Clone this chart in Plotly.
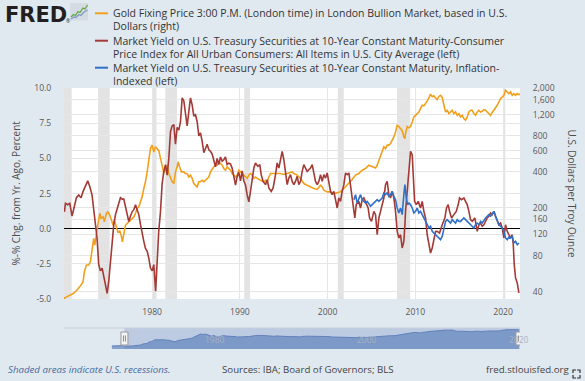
import math
import pandas as pd
import plotly.graph_objects as go

# ---------------- data ----------------
gold_year = [1968.30, 1968.80, 1969.20, 1969.60, 1969.90,
    1970.00, 1970.30, 1970.68, 1971.06, 1971.44, 1971.63, 1971.90, 1972.13, 1972.28, 1972.51,
    1972.77, 1972.96, 1973.15, 1973.34, 1973.46, 1973.65, 1973.80, 1974.03, 1974.18, 1974.41,
    1974.56, 1974.79, 1974.94, 1975.17, 1975.32, 1975.55, 1975.70, 1975.93, 1976.08, 1976.31,
    1976.46, 1976.61, 1976.77, 1976.96, 1977.15, 1977.34, 1977.53, 1977.72, 1977.91, 1978.10,
    1978.29, 1978.48, 1978.67, 1978.86, 1979.05, 1979.24, 1979.43, 1979.62, 1979.81, 1980.00,
    1980.19, 1980.38, 1980.57, 1980.76, 1980.95, 1981.14, 1981.33, 1981.52, 1981.71, 1981.90,
    1982.09, 1982.28, 1982.47, 1982.66, 1982.85, 1982.96, 1983.12, 1983.34, 1983.61, 1983.80,
    1983.99, 1984.18, 1984.37, 1984.56, 1984.75, 1984.94, 1985.13, 1985.32, 1985.51, 1985.70,
    1985.89, 1986.08, 1986.27, 1986.46, 1986.65, 1986.84, 1987.03, 1987.22, 1987.41, 1987.60,
    1987.79, 1987.98, 1988.17, 1988.36, 1988.55, 1988.74, 1988.93, 1989.12, 1989.31, 1989.50,
    1989.69, 1989.88, 1990.07, 1990.26, 1990.45, 1990.64, 1990.83, 1991.02, 1991.21, 1991.40,
    1991.59, 1991.78, 1991.97, 1992.35, 1992.73, 1992.92, 1993.11, 1993.30, 1993.49, 1993.87,
    1994.25, 1994.63, 1995.01, 1995.39, 1995.77, 1995.96, 1996.15, 1996.53, 1996.91, 1997.29,
    1997.67, 1998.05, 1998.43, 1998.81, 1999.19, 1999.38, 1999.57, 1999.95, 2000.33, 2000.71,
    2001.09, 2001.47, 2001.85, 2002.23, 2002.61, 2002.80, 2003.18, 2003.56, 2003.94, 2004.32,
    2004.70, 2005.08, 2005.46, 2005.65, 2005.84, 2006.03, 2006.22, 2006.41, 2006.60, 2006.79,
    2006.98, 2007.17, 2007.36, 2007.55, 2007.74, 2007.93, 2008.12, 2008.31, 2008.50, 2008.69,
    2008.81, 2008.88, 2009.07, 2009.26, 2009.45, 2009.64, 2009.83, 2010.02, 2010.21, 2010.40,
    2010.59, 2010.78, 2010.97, 2011.16, 2011.35, 2011.54, 2011.73, 2011.92, 2012.11, 2012.30,
    2012.49, 2012.68, 2012.87, 2013.06, 2013.25, 2013.44, 2013.63, 2013.82, 2014.01, 2014.20,
    2014.39, 2014.58, 2014.77, 2014.96, 2015.15, 2015.34, 2015.53, 2015.72, 2015.91, 2016.10,
    2016.29, 2016.48, 2016.67, 2016.86, 2017.05, 2017.24, 2017.43, 2017.62, 2017.81, 2018.00,
    2018.19, 2018.38, 2018.57, 2018.76, 2018.95, 2019.14, 2019.33, 2019.52, 2019.71, 2019.90,
    2020.09, 2020.28, 2020.47, 2020.66, 2020.85, 2021.04, 2021.23, 2021.42, 2021.61, 2021.80,
    2021.90]
gold_price = [38.0, 39.5, 42.5, 41.0, 35.5,
    35.2, 36.3, 37.4, 38.7, 41.2, 42.6, 45.4, 48.3, 58.6, 66.6,
    66.6, 70.9, 88.8, 111, 97.7, 126, 143, 180, 163, 168,
    153, 180, 185, 174, 163, 143, 158, 135, 126, 128,
    119, 104, 119, 143, 148, 153, 158, 163, 168, 180,
    198, 204, 225, 247, 290, 330, 399, 484, 625, 667,
    586, 646, 620, 600, 520, 450, 390, 412, 454, 387,
    352, 330, 319, 399, 440, 484, 440, 399, 399, 387,
    387, 362, 375, 352, 319, 309, 299, 330, 330, 340,
    330, 340, 352, 362, 399, 426, 440, 454, 454, 484,
    470, 454, 426, 412, 440, 426, 412, 387, 375, 362,
    375, 412, 399, 387, 375, 362, 352, 375, 387, 375,
    352, 362, 352, 340, 330, 340, 330, 362, 387, 387,
    387, 387, 380, 387, 393, 399, 387, 375, 352, 319,
    309, 299, 290, 285, 309, 299, 281, 272, 272, 263,
    267, 272, 290, 309, 330, 345, 375, 387, 412, 426,
    454, 440, 430, 454, 499, 550, 605, 646, 625, 667,
    667, 689, 733, 781, 860, 977, 954, 918, 880, 781,
    757, 834, 954, 930, 954, 1042, 1146, 1183, 1222, 1262,
    1345, 1435, 1420, 1480, 1560, 1650, 1780, 1690, 1720, 1650,
    1600, 1700, 1740, 1670, 1480, 1262, 1303, 1222, 1262, 1303,
    1222, 1262, 1183, 1222, 1146, 1183, 1112, 1077, 1146, 1262,
    1303, 1303, 1222, 1183, 1262, 1303, 1262, 1280, 1320, 1303,
    1262, 1222, 1183, 1250, 1303, 1345, 1435, 1528, 1633, 1683,
    1738, 1914, 1855, 1795, 1855, 1738, 1795, 1738, 1795, 1760,
    1795]

tcpi_year = [1970.00, 1970.12, 1970.38, 1970.61, 1970.87, 1971.14, 1971.37, 1971.63, 1971.90, 1972.13,
    1972.40, 1972.66, 1972.89, 1973.15, 1973.34, 1973.53, 1973.72, 1973.91, 1974.10, 1974.30,
    1974.49, 1974.68, 1974.87, 1975.06, 1975.25, 1975.44, 1975.63, 1975.82, 1976.01, 1976.20,
    1976.39, 1976.58, 1976.77, 1976.96, 1977.15, 1977.34, 1977.53, 1977.72, 1977.91, 1978.10,
    1978.29, 1978.48, 1978.67, 1978.86, 1979.05, 1979.24, 1979.43, 1979.62, 1979.81, 1980.00,
    1980.19, 1980.40, 1980.60, 1980.75, 1980.95, 1981.14, 1981.33, 1981.52, 1981.71, 1981.90,
    1982.09, 1982.28, 1982.47, 1982.66, 1982.85, 1983.04, 1983.23, 1983.42, 1983.61, 1983.80,
    1983.99, 1984.18, 1984.37, 1984.56, 1984.75, 1984.94, 1985.13, 1985.32, 1985.51, 1985.70,
    1985.89, 1986.08, 1986.27, 1986.46, 1986.65, 1986.84, 1987.03, 1987.22, 1987.41, 1987.60,
    1987.79, 1987.98, 1988.17, 1988.36, 1988.55, 1988.74, 1988.93, 1989.12, 1989.31, 1989.50,
    1989.69, 1989.88, 1990.07, 1990.26, 1990.45, 1990.64, 1990.83, 1991.02, 1991.21, 1991.40,
    1991.59, 1991.78, 1992.05, 1992.27, 1992.43, 1992.65, 1992.92, 1993.11, 1993.30, 1993.57,
    1993.79, 1994.06, 1994.25, 1994.44, 1994.63, 1994.82, 1995.01, 1995.20, 1995.39, 1995.58,
    1995.77, 1995.96, 1996.15, 1996.34, 1996.53, 1996.72, 1996.91, 1997.10, 1997.29, 1997.48,
    1997.67, 1997.86, 1998.05, 1998.24, 1998.43, 1998.62, 1998.81, 1999.00, 1999.19, 1999.38,
    1999.57, 1999.76, 1999.95, 2000.14, 2000.33, 2000.52, 2000.71, 2000.90, 2001.09, 2001.28,
    2001.47, 2001.66, 2001.85, 2002.04, 2002.23, 2002.42, 2002.61, 2002.80, 2002.99, 2003.10,
    2003.26, 2003.56, 2003.75, 2003.94, 2004.13, 2004.40, 2004.62, 2004.78, 2005.00, 2005.27,
    2005.46, 2005.65, 2005.84, 2006.03, 2006.22, 2006.41, 2006.60, 2006.79, 2006.98, 2007.17,
    2007.36, 2007.55, 2007.74, 2007.93, 2008.12, 2008.31, 2008.50, 2008.69, 2008.81, 2008.88,
    2009.07, 2009.26, 2009.45, 2009.64, 2009.76, 2009.91, 2010.10, 2010.33, 2010.59, 2010.78,
    2010.97, 2011.16, 2011.35, 2011.54, 2011.73, 2011.92, 2012.11, 2012.30, 2012.49, 2012.76,
    2013.06, 2013.36, 2013.55, 2013.74, 2013.90, 2014.12, 2014.39, 2014.66, 2014.88, 2015.04,
    2015.26, 2015.53, 2015.72, 2015.91, 2016.10, 2016.29, 2016.48, 2016.78, 2017.05, 2017.24,
    2017.43, 2017.62, 2017.81, 2018.00, 2018.19, 2018.38, 2018.57, 2018.76, 2018.95, 2019.14,
    2019.33, 2019.52, 2019.71, 2019.90, 2020.09, 2020.28, 2020.47, 2020.66, 2020.85, 2021.04,
    2021.16, 2021.27, 2021.42, 2021.61, 2021.80]
tcpi_value = [1.2, 1.8, 1.7, 1.8, 0.9, 1.5, 2.2, 2.4, 2.2, 2.65,
    3.1, 3.4, 3.0, 2.4, 1.35, 0.3, -0.66, -2.56, -3.0, -2.8,
    -3.5, -4.0, -4.6, -3.7, -2.3, -1.14, 0.3, 1.0, 1.5, 1.8,
    2.2, 2.1, 2.1, 1.6, 0.9, 0.5, 0.9, 1.2, 1.35, 1.7,
    1.35, 1.0, 0.3, -0.4, -0.9, -1.4, -1.6, -2.1, -2.8, -3.0,
    -2.56, -4.45, -2.0, -0.2, 1.2, 3.2, 4.07, 4.55, 3.8, 5.0,
    6.9, 7.3, 7.4, 6.0, 7.2, 7.0, 7.6, 9.3, 9.1, 8.3,
    7.3, 8.3, 9.3, 8.8, 8.0, 8.1, 7.6, 6.6, 6.8, 6.2,
    5.4, 5.7, 6.0, 5.6, 5.5, 5.3, 4.8, 4.4, 5.0, 4.55,
    5.1, 4.8, 4.9, 5.1, 4.55, 4.65, 4.6, 4.3, 3.7, 3.1,
    3.7, 4.0, 3.4, 4.1, 3.4, 3.1, 2.4, 1.9, 2.65, 3.4,
    4.31, 4.67, 4.43, 4.55, 3.84, 3.36, 3.13, 3.48, 2.89, 2.65,
    2.89, 3.84, 4.67, 4.31, 4.9, 5.5, 4.9, 3.84, 3.13, 3.6,
    3.84, 3.36, 3.13, 3.36, 3.72, 3.13, 3.36, 4.07, 4.55, 4.31,
    4.07, 4.19, 4.31, 4.55, 3.96, 3.36, 3.13, 3.36, 3.84, 3.36,
    3.84, 3.6, 3.96, 3.13, 2.65, 2.42, 2.65, 2.06, 1.47, 2.18,
    1.94, 2.65, 3.13, 3.96, 3.84, 3.96, 3.13, 2.18, 1.23, 0.76,
    1.71, 1.94, 1.47, 2.06, 2.18, 1.71, 1.47, 0.76, 0.52, 1.23,
    1.0, -0.43, 0.76, 1.23, 1.71, 2.18, 3.13, 3.36, 2.42, 2.18,
    2.65, 2.18, 1.23, -0.19, -0.66, -0.43, -1.37, -0.9, 0.28, 1.23,
    2.65, 4.07, 5.5, 5.26, 4.07, 1.94, 1.71, 1.94, 1.47, 1.94,
    1.23, 0.76, -0.43, -1.14, -1.73, -1.37, -0.66, -0.2, -0.19, -0.31,
    0.28, 0.76, 1.47, 1.71, 1.23, 0.76, 1.0, 1.23, 1.71, 2.18,
    2.06, 2.18, 1.94, 1.71, 1.23, 0.64, 0.52, 0.76, -0.19, 0.28,
    0.4, 0.17, 0.28, 0.52, 0.76, 0.88, 1.11, 1.0, 1.23, 0.88,
    0.52, 0.28, 0.4, 0.05, -0.66, 0.28, -0.19, -0.43, -0.66, -0.43,
    -1.14, -2.56, -3.5, -3.86, -4.57]

tips_year = [2003.00, 2003.18, 2003.37, 2003.56, 2003.75, 2003.94, 2004.13, 2004.32, 2004.51, 2004.70,
    2004.89, 2005.08, 2005.27, 2005.46, 2005.65, 2005.84, 2006.03, 2006.22, 2006.41, 2006.60,
    2006.79, 2006.98, 2007.17, 2007.36, 2007.55, 2007.74, 2007.93, 2008.12, 2008.31, 2008.50,
    2008.69, 2008.81, 2008.96, 2009.11, 2009.26, 2009.45, 2009.64, 2009.83, 2010.02, 2010.21,
    2010.40, 2010.59, 2010.78, 2010.97, 2011.16, 2011.35, 2011.54, 2011.73, 2011.92, 2012.11,
    2012.49, 2012.68, 2012.87, 2013.06, 2013.25, 2013.44, 2013.63, 2013.82, 2014.01, 2014.20,
    2014.39, 2014.58, 2014.77, 2014.96, 2015.15, 2015.34, 2015.53, 2015.72, 2015.91, 2016.10,
    2016.29, 2016.48, 2016.67, 2016.86, 2017.05, 2017.24, 2017.43, 2017.62, 2017.81, 2018.00,
    2018.19, 2018.38, 2018.57, 2018.76, 2018.95, 2019.14, 2019.33, 2019.52, 2019.71, 2019.90,
    2020.09, 2020.28, 2020.47, 2020.66, 2020.85, 2021.04, 2021.23, 2021.42, 2021.61, 2021.80]
tips_value = [2.06, 2.42, 1.82, 2.18, 2.42, 2.06, 1.94, 1.82, 1.94, 1.71,
    1.59, 1.71, 1.82, 1.94, 2.06, 1.94, 2.06, 2.18, 2.54, 2.42,
    2.54, 2.3, 2.42, 2.65, 2.3, 2.06, 1.47, 1.11, 1.47, 1.0,
    2.42, 3.13, 2.18, 1.71, 1.82, 1.71, 1.47, 1.11, 1.23, 1.47,
    1.11, 1.23, 1.0, 0.76, 0.64, 0.28, 0.05, 0.17, -0.19, -0.31,
    -0.55, -0.66, -0.78, -0.55, 0.05, 0.52, 0.64, 0.52, 0.4, 0.64,
    0.52, 0.4, 0.64, 0.52, 0.52, 0.64, 0.76, 0.64, 0.52, 0.4,
    0.28, 0.17, 0.05, 0.28, 0.4, 0.28, 0.52, 0.4, 0.64, 0.76,
    0.88, 1.0, 0.88, 1.11, 1.23, 0.88, 0.52, 0.28, 0.17, 0.05,
    -0.19, -0.66, -0.78, -0.6, -0.66, -0.55, -1.02, -0.9, -1.14, -1.02]

rec_start = ["1969-12-01", "1973-11-01", "1980-01-01", "1981-07-01",
             "1990-07-01", "2001-03-01", "2007-12-01", "2020-02-01"]
rec_end = ["1970-11-01", "1975-03-01", "1980-07-01", "1982-11-01",
           "1991-03-01", "2001-11-01", "2009-06-01", "2020-04-01"]

x_ticks = ["1980-01-01", "1990-01-01", "2000-01-01", "2010-01-01", "2020-01-01"]
x_ticktext = ["1980", "1990", "2000", "2010", "2020"]
left_ticks = [-5, -2.5, 0, 2.5, 5, 7.5, 10]
left_ticktext = ["-5.0", "-2.5", "0.0", "2.5", "5.0", "7.5", "10.0"]
right_ticks = [40, 80, 120, 160, 200, 400, 600, 800, 1200, 1600, 2000]
right_ticktext = ["40", "80", "120", "160", "200", "400", "600", "800", "1,200", "1,600", "2,000"]
nav_ticks = ["1980-01-01", "2000-01-01", "2020-01-01"]
nav_ticktext = ["1980", "2000", "2020"]

x_range = ["1969-12-15", "2021-12-05"]
nav_range = ["1962-01-01", "2022-01-01"]
left_range = [-5, 10]
right_range = [34.7, 2000]
nav_y_range = [18.5, 2700]

legend_lines = [
    "Gold Fixing Price 3:00 P.M. (London time) in London Bullion Market, based in U.S.",
    "Dollars (right)",
    "Market Yield on U.S. Treasury Securities at 10-Year Constant Maturity-Consumer",
    "Price Index for All Urban Consumers: All Items in U.S. City Average (left)",
    "Market Yield on U.S. Treasury Securities at 10-Year Constant Maturity, Inflation-",
    "Indexed (left)",
]

# ---------------- styling ----------------
GOLD = "#f2a01c"
RED = "#a33a36"
BLUE = "#2f70c8"
BG = "#e1e9f0"
GRID = "#e6e6e6"
FONT = "Open Sans"

W, H = 585, 381
ML, MR, MT, MB = 64, 65, 88, 32
PL, PR, PT, PB = ML, W - MR, MT, H - MB


def px(x):
    return (x - PL) / (PR - PL)


def py(y):
    return (PB - y) / (PB - PT)


def to_date(t):
    y = int(math.floor(t))
    return pd.Timestamp(year=y, month=1, day=1) + pd.Timedelta(days=(t - y) * 365.25)


gold_x = [to_date(t) for t in gold_year]
tcpi_x = [to_date(t) for t in tcpi_year]
tips_x = [to_date(t) for t in tips_year]

main_bottom = py(299)
nav_top = py(328)

fig = go.Figure()
# gold on primary (log, right) so that the left-axis series draw on top of it
fig.add_trace(go.Scatter(x=gold_x, y=gold_price, mode="lines", xaxis="x", yaxis="y",
                         line=dict(color=GOLD, width=1.6), hoverinfo="skip", showlegend=False))
fig.add_trace(go.Scatter(x=tcpi_x, y=tcpi_value, mode="lines", xaxis="x", yaxis="y2",
                         line=dict(color=RED, width=1.6), hoverinfo="skip", showlegend=False))
fig.add_trace(go.Scatter(x=tips_x, y=tips_value, mode="lines", xaxis="x", yaxis="y2",
                         line=dict(color=BLUE, width=1.6), hoverinfo="skip", showlegend=False))
# navigator mini chart
fig.add_trace(go.Scatter(x=gold_x, y=gold_price, mode="lines", xaxis="x2", yaxis="y3",
                         fill="tozeroy", fillcolor="#87a3cb",
                         line=dict(color="#5f80b8", width=1), hoverinfo="skip", showlegend=False))

shapes = []
for s, e in zip(rec_start, rec_end):
    shapes.append(dict(type="rect", xref="x", yref="y domain", x0=s, x1=e, y0=0, y1=1,
                       fillcolor="#e3e3e3", line=dict(width=0), layer="below"))
# navigator background, mask, outline, handles
shapes.append(dict(type="rect", xref="x2 domain", yref="y3 domain", x0=0, x1=1, y0=0, y1=1,
                   fillcolor=BG, line=dict(width=0), layer="below"))
shapes.append(dict(type="rect", xref="x2", yref="y3 domain", x0=x_range[0], x1=x_range[1],
                   y0=0, y1=1, fillcolor="rgba(102,133,194,0.3)", line=dict(width=0), layer="above"))
shapes.append(dict(type="line", xref="x2 domain", yref="y3 domain", x0=0, x1=1, y0=1, y1=1,
                   line=dict(color="#c5ced9", width=1), layer="above"))
for hx in x_range:
    shapes.append(dict(type="rect", xref="x2", xsizemode="pixel", xanchor=hx, x0=-3.5, x1=3.5,
                       yref="y3 domain", ysizemode="pixel", yanchor=0.5, y0=-6.5, y1=6.5,
                       fillcolor="#f4f4f4", line=dict(color="#9a9a9a", width=1), layer="above"))
    for dx in (-1, 1):
        shapes.append(dict(type="line", xref="x2", xsizemode="pixel", xanchor=hx, x0=dx, x1=dx,
                           yref="y3 domain", ysizemode="pixel", yanchor=0.5, y0=-3, y1=3,
                           line=dict(color="#8a8a8a", width=1), layer="above"))
# legend dashes
for yy, col in [(13.3, GOLD), (40.7, RED), (67.7, BLUE)]:
    shapes.append(dict(type="line", xref="paper", yref="paper", x0=px(95), x1=px(108),
                       y0=py(yy), y1=py(yy), line=dict(color=col, width=2)))
# FRED logo icon
shapes.append(dict(type="rect", xref="paper", yref="paper", x0=px(70), x1=px(88),
                   y0=py(20.5), y1=py(3), fillcolor="#d5dbe2", line=dict(width=0)))
icon_g = [(71, 17), (73.5, 14.5), (75.5, 15.5), (78, 11.5), (80, 12.5), (83, 8), (85, 9), (87.5, 5)]
icon_b = [(71, 19), (74, 17), (76, 17.5), (79, 14.5), (81, 15.5), (84, 12), (87.5, 10)]
for pts, col in [(icon_b, "#7e9cc6"), (icon_g, "#63a845")]:
    path = "M " + " L ".join(f"{px(a):.5f},{py(b):.5f}" for a, b in pts)
    shapes.append(dict(type="path", xref="paper", yref="paper", path=path,
                       line=dict(color=col, width=1.3)))
# fullscreen icon bottom right
for (ax_, ay_, bx, by, cx, cy) in [(573, 373, 573, 370, 576, 370), (577, 370, 580, 370, 580, 373),
                                   (573, 375, 573, 378, 576, 378), (577, 378, 580, 378, 580, 375)]:
    path = f"M {px(ax_):.5f},{py(ay_):.5f} L {px(bx):.5f},{py(by):.5f} L {px(cx):.5f},{py(cy):.5f}"
    shapes.append(dict(type="path", xref="paper", yref="paper", path=path,
                       line=dict(color="#333333", width=1.2)))

ann = []
legend_y = [13.3, 26.3, 40.7, 53.7, 67.7, 80.7]
for txt, yy in zip(legend_lines, legend_y):
    ann.append(dict(text=txt, xref="paper", yref="paper", x=px(111), y=py(yy),
                    xanchor="left", yanchor="middle", showarrow=False,
                    font=dict(family=FONT, size=10.5, color="#333333")))
ann.append(dict(text="<b>FRED</b>", xref="paper", yref="paper", x=px(3), y=py(14.5),
                xanchor="left", yanchor="middle", showarrow=False,
                font=dict(family="DejaVu Sans", size=21, color="#231f20")))
ann.append(dict(text="®", xref="paper", yref="paper", x=px(64), y=py(21),
                xanchor="left", yanchor="middle", showarrow=False,
                font=dict(family=FONT, size=5, color="#231f20")))
ann.append(dict(text="%-% Chg. from Yr. Ago, Percent", xref="paper", yref="paper",
                x=px(15), y=py(193.5), textangle=-90, xanchor="center", yanchor="middle",
                showarrow=False, font=dict(family=FONT, size=10, color="#4d4d4d")))
ann.append(dict(text="U.S. Dollars per Troy Ounce", xref="paper", yref="paper",
                x=px(572), y=py(193.5), textangle=90, xanchor="center", yanchor="middle",
                showarrow=False, font=dict(family=FONT, size=10, color="#4d4d4d")))
for tv, tt in zip(nav_ticks, nav_ticktext):
    ann.append(dict(text=tt, xref="x2", yref="y3 domain", x=tv, y=0.45, xshift=2,
                    xanchor="left", yanchor="middle", showarrow=False,
                    font=dict(family=FONT, size=8.5, color="#a7b2c2")))
ann.append(dict(text="<i>Shaded areas indicate U.S. recessions.</i>", xref="paper", yref="paper",
                x=px(6), y=py(369.5), xanchor="left", yanchor="middle", showarrow=False,
                font=dict(family=FONT, size=9.7, color="#46689c")))
ann.append(dict(text="Sources: IBA; Board of Governors; BLS", xref="paper", yref="paper",
                x=px(220), y=py(369.5), xanchor="left", yanchor="middle", showarrow=False,
                font=dict(family=FONT, size=9.7, color="#444444")))
ann.append(dict(text="fred.stlouisfed.org", xref="paper", yref="paper",
                x=px(571), y=py(369.5), xanchor="right", yanchor="middle", showarrow=False,
                font=dict(family=FONT, size=9.7, color="#444444")))

tick_font = dict(family=FONT, size=8.6, color="#595959")
fig.update_layout(
    width=W, height=H, autosize=False,
    margin=dict(l=ML, r=MR, t=MT, b=MB, pad=0),
    paper_bgcolor=BG, plot_bgcolor="white",
    font=dict(family=FONT),
    showlegend=False,
    xaxis=dict(domain=[0, 1], anchor="y", type="date", range=x_range,
               tickvals=x_ticks, ticktext=x_ticktext, tickfont=tick_font,
               ticks="outside", ticklen=5, tickcolor="rgba(0,0,0,0)",
               showgrid=True, gridcolor=GRID, gridwidth=1, zeroline=False, showline=False,
               fixedrange=True),
    yaxis=dict(domain=[main_bottom, 1], anchor="x", side="right", type="log",
               range=[math.log10(right_range[0]), math.log10(right_range[1])],
               tickvals=right_ticks, ticktext=right_ticktext, tickfont=tick_font,
               ticks="outside", ticklen=10, tickcolor="rgba(0,0,0,0)",
               showgrid=True, gridcolor=GRID, gridwidth=1, zeroline=False, showline=False,
               fixedrange=True),
    yaxis2=dict(overlaying="y", anchor="x", side="left", range=left_range,
                tickvals=left_ticks, ticktext=left_ticktext, tickfont=tick_font,
                ticks="outside", ticklen=10, tickcolor="rgba(0,0,0,0)",
                showgrid=True, gridcolor=GRID, gridwidth=1,
                zeroline=True, zerolinecolor="#000000", zerolinewidth=1.5, showline=False,
                fixedrange=True),
    xaxis2=dict(domain=[0, 1], anchor="y3", type="date", range=nav_range, visible=False,
                fixedrange=True),
    yaxis3=dict(domain=[0, nav_top], anchor="x2", type="log",
                range=[math.log10(nav_y_range[0]), math.log10(nav_y_range[1])], visible=False,
                fixedrange=True),
    shapes=shapes,
    annotations=ann,
)

page_fix = ("document.body.style.margin='0';document.body.style.padding='0';"
            "document.body.style.background='" + BG + "';"
            "document.documentElement.style.background='" + BG + "';")
fig.write_html("out.html", config={"displayModeBar": False, "staticPlot": True},
               post_script=page_fix)
